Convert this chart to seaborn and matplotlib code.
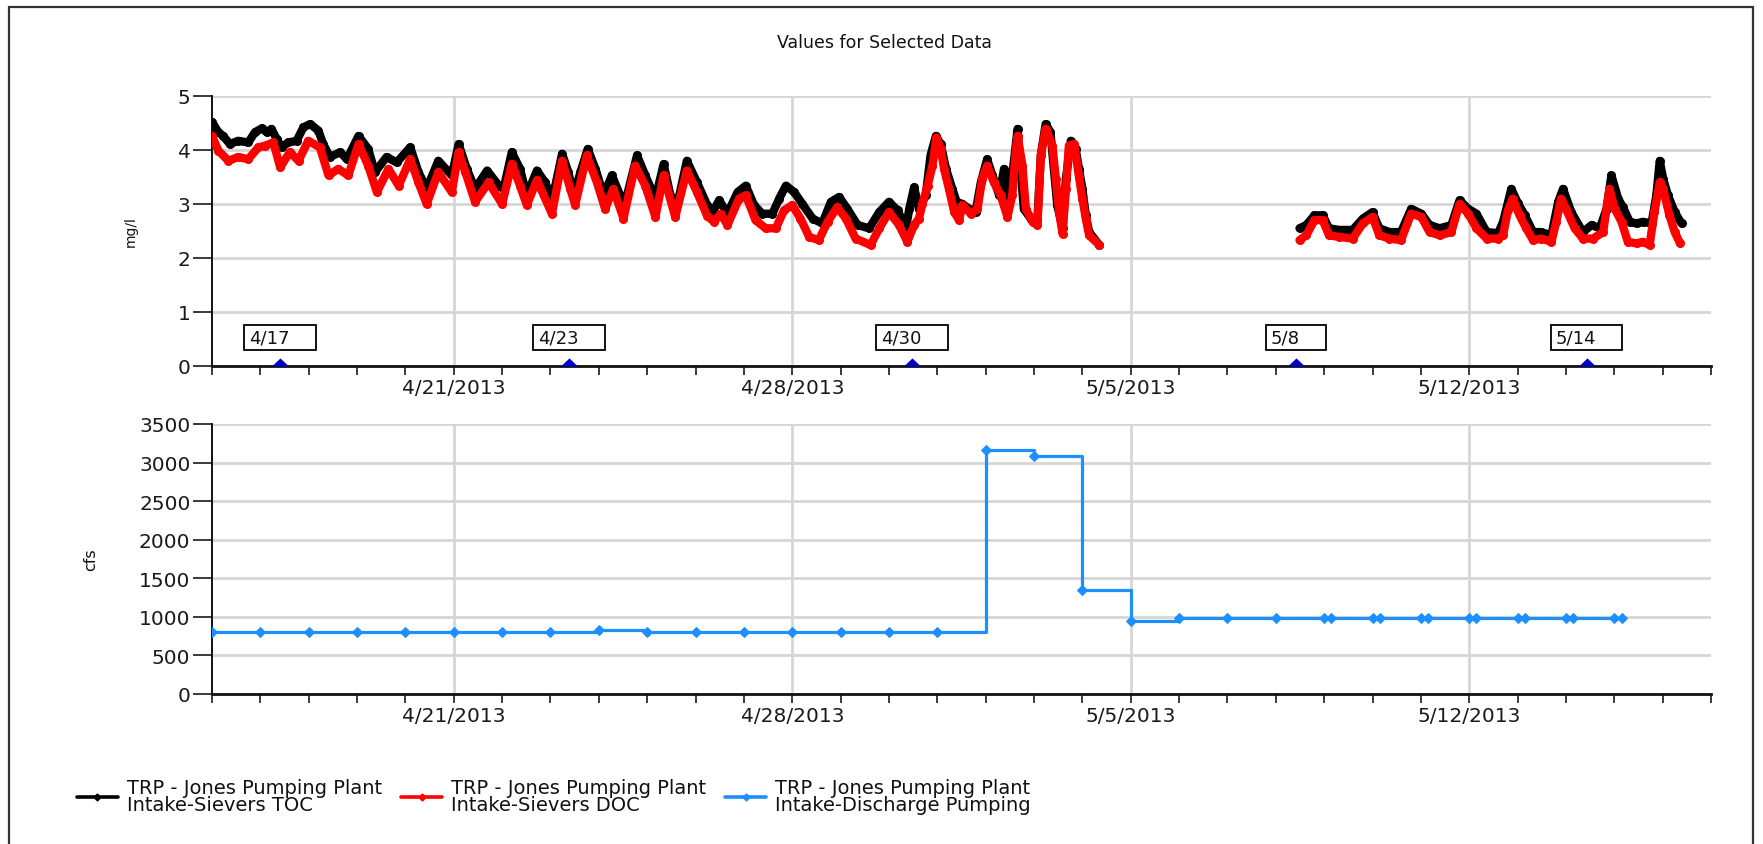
import numpy as np
import pandas as pd
import matplotlib
matplotlib.use("Agg")
import matplotlib.pyplot as plt
import matplotlib.dates as mdates
from matplotlib.path import Path
from matplotlib.lines import Line2D
from matplotlib.patches import Rectangle
from matplotlib.ticker import FuncFormatter
import seaborn as sns

# ---------------- data (days after 2013-04-16 00:00) ----------------
START = pd.Timestamp("2013-04-16")
END_DAYS = 31

toc_seg1_days = [0.00, 0.13, 0.23, 0.37, 0.54, 0.75, 0.89, 1.03, 1.13, 1.23, 1.34, 1.44, 1.58, 1.75, 1.89,
                 2.03, 2.20, 2.30, 2.44, 2.65, 2.79, 3.03, 3.23, 3.37, 3.61, 3.82, 4.10, 4.27, 4.44, 4.68,
                 4.96, 5.10, 5.27, 5.44, 5.69, 5.93, 6.03, 6.20, 6.37, 6.51, 6.72, 6.89, 7.03, 7.10, 7.24,
                 7.37, 7.48, 7.62, 7.77, 7.93, 8.10, 8.27, 8.44, 8.55, 8.79, 8.96, 9.17, 9.34, 9.48, 9.62,
                 9.82, 10.03, 10.24, 10.35, 10.49, 10.66, 10.87, 11.04, 11.21, 11.38, 11.59, 11.73, 11.87,
                 12.04, 12.21, 12.42, 12.62, 12.80, 12.97, 13.14, 13.35, 13.59, 13.80, 14.00, 14.18, 14.35,
                 14.42, 14.52, 14.62, 14.76, 14.86, 14.97, 15.07, 15.18, 15.31, 15.40, 15.52, 15.66, 15.79,
                 15.90, 16.03, 16.14, 16.28, 16.38, 16.45, 16.55, 16.66, 16.72, 16.79, 16.93, 17.07, 17.14,
                 17.24, 17.34, 17.41, 17.48, 17.59, 17.66, 17.76, 17.86, 17.93, 18.00, 18.07, 18.14, 18.35]
toc_seg1_vals = [4.52, 4.33, 4.26, 4.11, 4.17, 4.14, 4.33, 4.40, 4.33, 4.39, 4.20, 4.05, 4.14, 4.17, 4.42,
                 4.48, 4.36, 4.11, 3.87, 3.96, 3.83, 4.26, 4.02, 3.59, 3.87, 3.77, 4.05, 3.59, 3.28, 3.80,
                 3.53, 4.11, 3.65, 3.28, 3.62, 3.34, 3.28, 3.96, 3.65, 3.16, 3.62, 3.40, 3.10, 3.34, 3.93,
                 3.59, 3.16, 3.59, 4.02, 3.65, 3.16, 3.53, 3.16, 3.04, 3.90, 3.53, 3.10, 3.74, 3.16, 2.98,
                 3.80, 3.40, 2.98, 2.85, 3.07, 2.82, 3.22, 3.34, 2.98, 2.82, 2.82, 3.10, 3.34,
                 3.22, 3.00, 2.73, 2.64, 3.04, 3.13, 2.91, 2.61, 2.55, 2.85, 3.04, 2.88, 2.55,
                 2.91, 3.31, 2.91, 3.16, 3.90, 4.26, 4.11, 3.65, 3.28, 3.04, 3.00, 2.91, 2.85,
                 3.40, 3.83, 3.53, 3.16, 3.65, 3.04, 3.53, 4.39, 3.65, 2.91, 2.73, 2.70, 3.90,
                 4.48, 4.33, 3.65, 2.98, 2.55, 3.47, 4.17, 4.02, 3.65, 3.28, 2.79, 2.48, 2.24]

toc_seg2_days = [22.49, 22.63, 22.80, 22.97, 23.10, 23.31, 23.59, 23.80, 24.00, 24.14, 24.35, 24.59, 24.80,
                 25.01, 25.18, 25.39, 25.63, 25.80, 25.98, 26.15, 26.36, 26.60, 26.70, 26.87, 27.01, 27.15,
                 27.32, 27.49, 27.70, 27.84, 27.94, 28.11, 28.35, 28.53, 28.70, 28.84, 28.94, 29.08, 29.18,
                 29.32, 29.46, 29.59, 29.77, 29.87, 29.94, 30.01, 30.11, 30.25, 30.39]
toc_seg2_vals = [2.55, 2.61, 2.79, 2.79, 2.55, 2.52, 2.52, 2.73, 2.85, 2.55, 2.48, 2.48, 2.91,
                 2.82, 2.61, 2.55, 2.61, 3.07, 2.91, 2.82, 2.48, 2.46, 2.67, 3.28, 3.01, 2.79,
                 2.48, 2.48, 2.42, 3.04, 3.28, 2.85, 2.48, 2.61, 2.55, 2.91, 3.53, 3.10, 2.94,
                 2.67, 2.64, 2.67, 2.64, 3.16, 3.80, 3.47, 3.16, 2.85, 2.64]

doc_seg1_days = [0.00, 0.13, 0.34, 0.54, 0.75, 0.96, 1.10, 1.27, 1.41, 1.61, 1.79, 1.99, 2.23, 2.41, 2.61,
                 2.82, 3.03, 3.23, 3.41, 3.65, 3.86, 4.10, 4.27, 4.44, 4.68, 4.96, 5.10, 5.24, 5.44, 5.72,
                 6.00, 6.20, 6.37, 6.51, 6.72, 7.03, 7.24, 7.41, 7.51, 7.75, 7.96, 8.13, 8.30, 8.51, 8.75,
                 8.96, 9.17, 9.34, 9.58, 9.82, 10.03, 10.24, 10.38, 10.52, 10.66, 10.90, 11.04, 11.24, 11.45,
                 11.66, 11.83, 12.00, 12.17, 12.35, 12.55, 12.73, 12.93, 13.11, 13.31, 13.62, 13.80, 14.00,
                 14.21, 14.38, 14.52, 14.62, 14.69, 14.80, 14.90, 14.98, 15.07, 15.14, 15.24, 15.35, 15.45,
                 15.52, 15.69, 15.83, 15.93, 16.03, 16.17, 16.31, 16.45, 16.55, 16.62, 16.66, 16.76, 16.83,
                 16.97, 17.07, 17.14, 17.24, 17.38, 17.45, 17.52, 17.59, 17.66, 17.72, 17.83, 17.93, 18.00,
                 18.07, 18.14, 18.35]
doc_seg1_vals = [4.26, 3.99, 3.80, 3.87, 3.83, 4.05, 4.08, 4.14, 3.68, 3.96, 3.80, 4.17, 4.05, 3.53, 3.65,
                 3.53, 4.11, 3.71, 3.22, 3.65, 3.34, 3.83, 3.40, 3.00, 3.59, 3.22, 3.96, 3.59, 3.04, 3.40,
                 3.00, 3.74, 3.34, 2.98, 3.44, 2.82, 3.80, 3.28, 2.98, 3.90, 3.40, 2.91, 3.28, 2.73, 3.71,
                 3.34, 2.76, 3.53, 2.76, 3.62, 3.22, 2.78, 2.67, 2.82, 2.61, 3.10, 3.16, 2.70, 2.55,
                 2.55, 2.88, 2.98, 2.73, 2.39, 2.33, 2.67, 2.94, 2.73, 2.36, 2.24, 2.55, 2.85,
                 2.61, 2.30, 2.61, 2.73, 3.00, 3.34, 3.71, 4.23, 4.02, 3.65, 3.28, 2.85, 2.70,
                 2.98, 2.82, 2.91, 3.47, 3.71, 3.40, 3.16, 2.76, 3.16, 3.96, 4.26, 3.71, 2.91,
                 2.67, 2.61, 3.90, 4.39, 4.08, 3.47, 2.85, 2.45, 3.28, 4.08, 4.11, 3.50, 3.10,
                 2.73, 2.42, 2.24]

doc_seg2_days = [22.49, 22.63, 22.80, 22.97, 23.10, 23.31, 23.59, 23.80, 24.00, 24.14, 24.35, 24.59, 24.80,
                 25.01, 25.18, 25.39, 25.63, 25.80, 25.98, 26.15, 26.36, 26.60, 26.70, 26.80, 26.90, 27.04,
                 27.18, 27.32, 27.49, 27.70, 27.80, 27.90, 28.00, 28.18, 28.35, 28.56, 28.77, 28.90, 29.01,
                 29.15, 29.28, 29.46, 29.59, 29.73, 29.83, 29.94, 30.01, 30.14, 30.25, 30.36]
doc_seg2_vals = [2.33, 2.42, 2.70, 2.70, 2.42, 2.39, 2.36, 2.64, 2.76, 2.42, 2.36, 2.33, 2.82,
                 2.76, 2.48, 2.42, 2.48, 3.00, 2.82, 2.55, 2.36, 2.36, 2.42, 2.88, 3.10, 2.79,
                 2.55, 2.33, 2.36, 2.30, 2.67, 3.10, 2.91, 2.55, 2.36, 2.36, 2.48, 3.28, 2.91,
                 2.67, 2.30, 2.27, 2.30, 2.24, 2.85, 3.40, 3.28, 2.79, 2.48, 2.27]

pump_days = [0, 1, 2, 3, 4, 5, 6, 7, 8, 9, 10, 11, 12, 13, 14, 15, 16, 17, 18, 19, 20, 21, 22,
             23, 23.15, 24, 24.15, 25, 25.15, 26, 26.15, 27, 27.15, 28, 28.15, 29, 29.15]
pump_cfs = [810, 810, 810, 810, 810, 810, 810, 810, 830, 810, 810, 810, 810, 810, 810, 810, 3160, 3090,
            1350, 940, 980, 980, 980, 980, 980, 980, 980, 980, 980, 980, 980, 980, 980, 980, 980, 980, 980]

event_days = [1.41, 7.39, 14.48, 22.42, 28.43]
event_labels = ["4/17", "4/23", "4/30", "5/8", "5/14"]

series_labels = ["TRP - Jones Pumping Plant\nIntake-Sievers TOC",
                 "TRP - Jones Pumping Plant\nIntake-Sievers DOC",
                 "TRP - Jones Pumping Plant\nIntake-Discharge Pumping"]
series_colors = ["#000000", "#FF0000", "#1E8FFF"]


def to_dt(days):
    return START + pd.to_timedelta(np.asarray(days, dtype=float), unit="D")


def seg_frame(d1, v1, d2, v2):
    return pd.DataFrame({
        "time": np.concatenate([to_dt(d1), to_dt(d2)]),
        "value": np.concatenate([v1, v2]),
        "seg": [1] * len(d1) + [2] * len(d2),
    })


df_toc = seg_frame(toc_seg1_days, toc_seg1_vals, toc_seg2_days, toc_seg2_vals)
df_doc = seg_frame(doc_seg1_days, doc_seg1_vals, doc_seg2_days, doc_seg2_vals)
df_pump = pd.DataFrame({"time": to_dt(pump_days), "cfs": pump_cfs})

# ---------------- style ----------------
sns.set_style("white")
plt.rcParams["font.family"] = ["DejaVu Sans"]

W, H = 1763, 845
fig = plt.figure(figsize=(W / 100, H / 100), dpi=100)
fig.patch.set_facecolor("white")

L, R = 212 / W, 1711 / W
ax1 = fig.add_axes([L, 1 - 367 / H, R - L, 270 / H])
ax2 = fig.add_axes([L, 1 - 695 / H, R - L, 270 / H])

# top: TOC / DOC
line_kw = dict(lw=6.0, solid_joinstyle="round", solid_capstyle="round",
               marker="o", markersize=6.5, markeredgewidth=0)
sns.lineplot(data=df_toc, x="time", y="value", units="seg", estimator=None,
             color=series_colors[0], ax=ax1, legend=False, zorder=3, **line_kw)
sns.lineplot(data=df_doc, x="time", y="value", units="seg", estimator=None,
             color=series_colors[1], ax=ax1, legend=False, zorder=4, **line_kw)

tri = Path([(-1, 0), (1, 0), (0, 0.95), (-1, 0)], closed=True)
sns.scatterplot(x=to_dt(event_days), y=np.zeros(len(event_days)), marker=tri, s=150,
                color="#0000CC", linewidth=0, clip_on=False, zorder=6, ax=ax1, legend=False)


def label_box(x0, y0, width, height, mutation_size):
    pl, pr, pv = 0.28 * mutation_size, 1.45 * mutation_size, 0.2 * mutation_size
    xa, xb = x0 - pl, x0 + width + pr
    ya, yb = y0 - pv, y0 + height + pv
    return Path([(xa, ya), (xb, ya), (xb, yb), (xa, yb), (xa, ya)], closed=True)


for d, lab in zip(to_dt(event_days), event_labels):
    ax1.annotate(lab, xy=(mdates.date2num(d), 0), xycoords="data",
                 xytext=(-7.8, 20.5), textcoords="offset points",
                 ha="center", va="center", fontsize=13, color="#111111", zorder=7,
                 annotation_clip=False,
                 bbox=dict(boxstyle=label_box, fc="white", ec="black", lw=1.3))

# bottom: pumping
sns.lineplot(data=df_pump, x="time", y="cfs", estimator=None, drawstyle="steps-post",
             color=series_colors[2], lw=2.3, marker="D", markersize=5,
             mec=series_colors[2], mfc=series_colors[2], ax=ax2, legend=False, zorder=3)

# ---------------- axes formatting ----------------
xmin, xmax = mdates.date2num(START), mdates.date2num(START + pd.Timedelta(days=END_DAYS))
major = [mdates.date2num(pd.Timestamp(s)) for s in ["2013-04-21", "2013-04-28", "2013-05-05", "2013-05-12"]]
minor = list(np.arange(xmin, xmax + 0.5, 1.0))


def datefmt(x, pos=None):
    d = mdates.num2date(x)
    return f"{d.month}/{d.day}/{d.year}"


for ax, ylim, yticks, ylabel, lab_x, lab_fs in [
        (ax1, (0, 5), np.arange(0, 6, 1), "mg/l", (138 - 212) / 1499, 10),
        (ax2, (0, 3500), np.arange(0, 3501, 500), "cfs", (98 - 212) / 1499, 11.5)]:
    ax.set_xlim(xmin, xmax)
    ax.set_ylim(*ylim)
    ax.set_yticks(yticks)
    ax.set_xticks(major)
    ax.set_xticks(minor, minor=True)
    ax.xaxis.set_major_formatter(FuncFormatter(datefmt))
    ax.set_xlabel("")
    ax.set_ylabel(ylabel, fontsize=lab_fs, color="#111111")
    ax.yaxis.set_label_coords(lab_x, 0.5)
    ax.set_axisbelow(True)
    ax.grid(True, which="major", color="#d6d6d6", lw=2.0)
    for s in ["top", "right"]:
        ax.spines[s].set_visible(False)
    ax.spines["left"].set_color("black")
    ax.spines["left"].set_linewidth(1.3)
    ax.spines["bottom"].set_color("#111111")
    ax.spines["bottom"].set_linewidth(2.0)
    ax.tick_params(axis="y", which="major", length=14, width=1.2, pad=1.5,
                   labelsize=14.5, colors="#1a1a1a", left=True)
    ax.tick_params(axis="x", which="both", length=6.5, width=1.2, pad=2.5,
                   labelsize=14.5, colors="#1a1a1a", bottom=True)

fig.text(885 / W, 1 - 43 / H, "Values for Selected Data", ha="center", va="center",
         fontsize=12.5, color="#111111")

# legend
handles = [Line2D([], [], color=c, lw=2.6, marker="D", markersize=3.5, mec=c, mfc=c)
           for c in series_colors]
leg = fig.legend(handles, series_labels, loc="center left", bbox_to_anchor=(77 / W, 1 - 797 / H),
                 ncol=3, frameon=False, fontsize=14, handlelength=2.1, handletextpad=0.45,
                 columnspacing=1.0, borderpad=0, borderaxespad=0)
for t in leg.get_texts():
    t.set_linespacing(0.82)
    t.set_color("#111111")

# outer frame
fig.add_artist(Rectangle((9 / W, -0.05), (1753 - 9) / W, 1.05 - 8 / H, transform=fig.transFigure,
                         fill=False, ec="#333333", lw=1.6))

fig.savefig("out.png", dpi=100, facecolor="white")
